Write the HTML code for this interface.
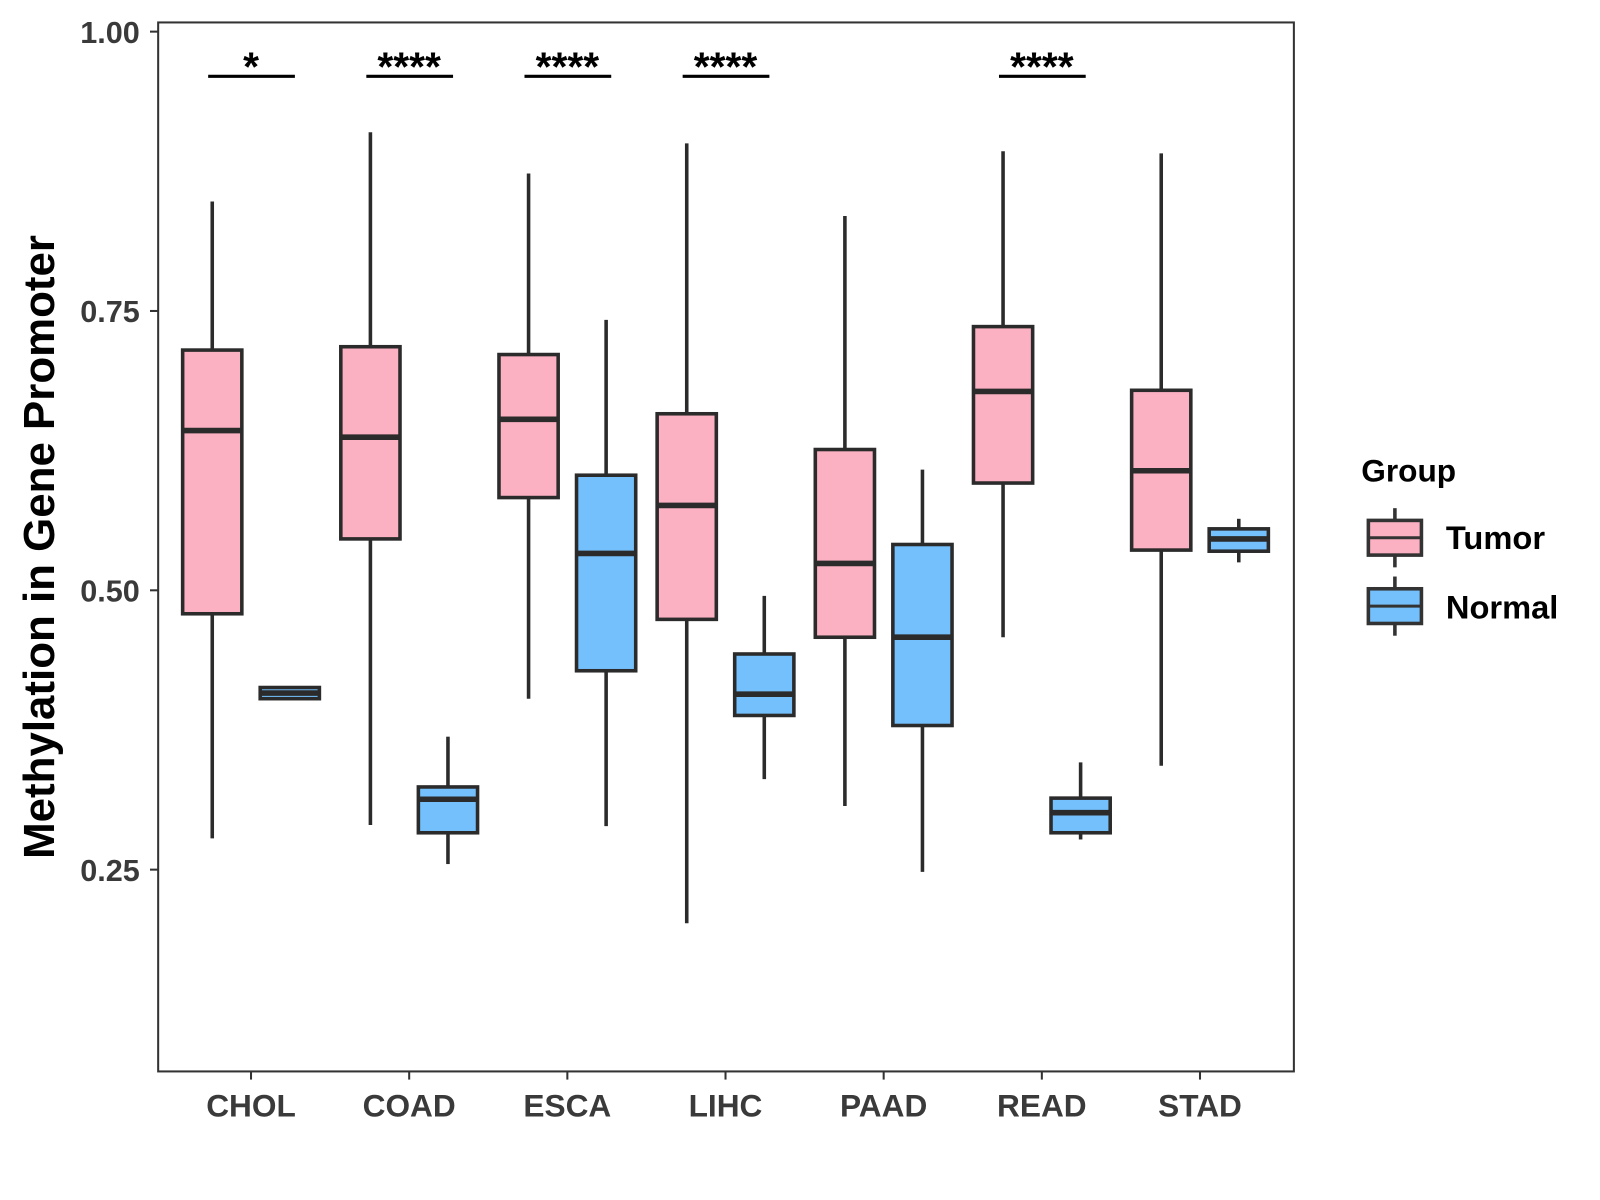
<!DOCTYPE html>
<html><head><meta charset="utf-8"><style>
body{margin:0;background:#fff;}
svg{display:block;font-family:"Liberation Sans",Arial,sans-serif;}
</style></head><body>
<svg id="chart" width="1600" height="1200" viewBox="0 0 1568 1176">
<rect x="155" y="22" width="1113" height="1028" fill="#fff" stroke="#333" stroke-width="2"/>
<g id="marks"></g>
<g id="axes"></g>
<text transform="translate(53,536) rotate(-90)" text-anchor="middle" font-size="43" font-weight="bold" fill="#000">Methylation in Gene Promoter</text>
<g>
<text x="1334" y="472" font-size="31" font-weight="bold" fill="#000">Group</text>
<g>
<line x1="1367" y1="498" x2="1367" y2="556" stroke="#333" stroke-width="3.5"/>
<rect x="1341" y="510" width="52" height="34" fill="#fcb1c3" stroke="#333" stroke-width="3.5"/>
<line x1="1341" y1="527" x2="1393" y2="527" stroke="#333" stroke-width="3"/>
<text x="1417" y="538" font-size="32" font-weight="bold" fill="#000">Tumor</text></g>
<g>
<line x1="1367" y1="565" x2="1367" y2="623" stroke="#333" stroke-width="3.5"/>
<rect x="1341" y="577" width="52" height="34" fill="#74c0fc" stroke="#333" stroke-width="3.5"/>
<line x1="1341" y1="594" x2="1393" y2="594" stroke="#333" stroke-width="3"/>
<text x="1417" y="606" font-size="32" font-weight="bold" fill="#000">Normal</text></g>
</g>
</svg>
<script>
const categories=["CHOL","COAD","ESCA","LIHC","PAAD","READ","STAD"];
// [lowerWhisker, Q1, median, Q3, upperWhisker]
const tumorStats=[[0.278,0.479,0.643,0.715,0.848],[0.290,0.546,0.637,0.718,0.910],[0.403,0.583,0.653,0.711,0.873],[0.202,0.474,0.576,0.658,0.900],[0.307,0.458,0.524,0.626,0.835],[0.458,0.596,0.678,0.736,0.893],[0.343,0.536,0.607,0.679,0.891]];
const normalStats=[[0.403,0.403,0.408,0.413,0.413],[0.255,0.283,0.313,0.324,0.369],[0.289,0.428,0.533,0.603,0.742],[0.331,0.388,0.407,0.443,0.495],[0.248,0.379,0.458,0.541,0.608],[0.277,0.283,0.301,0.314,0.346],[0.525,0.535,0.546,0.555,0.564]];
const sigLabels=["*","****","****","****","","****",""];
const yTicks=[0.25,0.5,0.75,1.0];
const yTickLabels=["0.25","0.50","0.75","1.00"];
const sigLevel=0.96;

const NS="http://www.w3.org/2000/svg";
function y(v){return 31+(1-v)*1095;}
function x(i){return 246+i*155;}
function mk(tag,attrs,parent){const e=document.createElementNS(NS,tag);for(const k in attrs)e.setAttribute(k,attrs[k]);parent.appendChild(e);return e;}
const marks=document.getElementById('marks'),axes=document.getElementById('axes');
function box(cx,s,fill,name){
  const g=mk('g',{},marks);
  
  
  const st={stroke:"#2b2b2b","stroke-width":3.5};
  mk('line',Object.assign({x1:cx,x2:cx,y1:y(s[4]),y2:y(s[3])},st),g);
  mk('line',Object.assign({x1:cx,x2:cx,y1:y(s[1]),y2:y(s[0])},st),g);
  mk('rect',Object.assign({x:cx-29,y:y(s[3]),width:58,height:Math.max(1,y(s[1])-y(s[3])),fill:fill},st),g);
  mk('line',{x1:cx-29,x2:cx+29,y1:y(s[2]),y2:y(s[2]),stroke:"#2b2b2b","stroke-width":5.5},g);
}
categories.forEach((c,i)=>{
  box(x(i)-38,tumorStats[i],"#fcb1c3","box-tumor-"+c.toLowerCase());
  box(x(i)+38,normalStats[i],"#74c0fc","box-normal-"+c.toLowerCase());
  if(sigLabels[i]){
    const g=mk('g',{},marks);
    
    
    mk('line',{x1:x(i)-42,x2:x(i)+43,y1:y(sigLevel),y2:y(sigLevel),stroke:"#000","stroke-width":3},g);
    const t=mk('text',{x:x(i),y:y(sigLevel)+4,"text-anchor":"middle","font-size":40,"font-weight":"bold",fill:"#000"},g);
    t.textContent=sigLabels[i];
  }
  mk('line',{x1:x(i),x2:x(i),y1:1050,y2:1058,stroke:"#333","stroke-width":2},axes);
  const t=mk('text',{x:x(i),y:1094,"text-anchor":"middle","font-size":31,"font-weight":"bold",fill:"#3a3a3a"},axes);
  
  
  t.textContent=c;
});
yTicks.forEach((v,i)=>{
  mk('line',{x1:147,x2:155,y1:y(v),y2:y(v),stroke:"#333","stroke-width":2},axes);
  const t=mk('text',{x:137,y:y(v)+11,"text-anchor":"end","font-size":30,"font-weight":"bold",fill:"#3a3a3a"},axes);
  
  
  t.textContent=yTickLabels[i];
});
</script>
</body></html>
